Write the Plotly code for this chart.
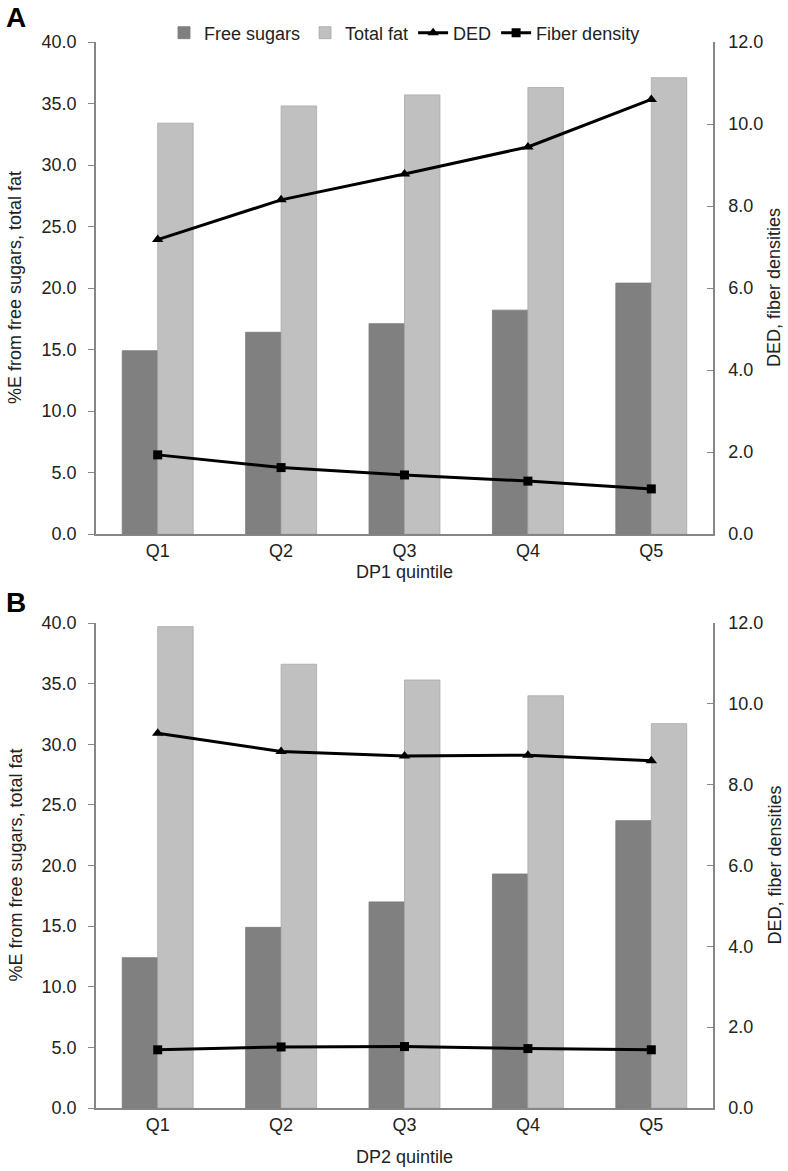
import plotly.graph_objects as go

quintiles = ["Q1", "Q2", "Q3", "Q4", "Q5"]

# Panel A (DP1)
a_free_sugars = [14.9, 16.4, 17.1, 18.2, 20.4]
a_total_fat = [33.4, 34.8, 35.7, 36.3, 37.1]
a_ded = [7.18, 8.15, 8.78, 9.44, 10.60]
a_fiber = [1.93, 1.62, 1.44, 1.29, 1.10]

# Panel B (DP2)
b_free_sugars = [12.4, 14.9, 17.0, 19.3, 23.7]
b_total_fat = [39.7, 36.6, 35.3, 34.0, 31.7]
b_ded = [9.27, 8.82, 8.71, 8.73, 8.59]
b_fiber = [1.44, 1.51, 1.52, 1.47, 1.44]

FONT = "Arial, Liberation Sans, sans-serif"
AX = "#868686"
DARK = "#808080"
LIGHT = "#c0c0c0"

fig = go.Figure()

def add_panel(xa, ya, ya2, fs, tf, ded, fib, show):
    fig.add_trace(go.Bar(x=quintiles, y=fs, name="Free sugars", xaxis=xa, yaxis=ya,
                         marker=dict(color=DARK, line=dict(color="#7a7a7a", width=0.8)),
                         showlegend=show, legendgroup="fs", offsetgroup="fs"))
    fig.add_trace(go.Bar(x=quintiles, y=tf, name="Total fat", xaxis=xa, yaxis=ya,
                         marker=dict(color=LIGHT, line=dict(color="#a8a8a8", width=0.8)),
                         showlegend=show, legendgroup="tf", offsetgroup="tf"))
    fig.add_trace(go.Scatter(x=quintiles, y=ded, name="DED", xaxis=xa, yaxis=ya2,
                             mode="lines+markers",
                             line=dict(color="black", width=3),
                             marker=dict(symbol="triangle-up", size=10, color="black"),
                             showlegend=show, legendgroup="ded"))
    fig.add_trace(go.Scatter(x=quintiles, y=fib, name="Fiber density", xaxis=xa, yaxis=ya2,
                             mode="lines+markers",
                             line=dict(color="black", width=3),
                             marker=dict(symbol="square", size=9, color="black"),
                             showlegend=show, legendgroup="fib"))

add_panel("x", "y", "y2", a_free_sugars, a_total_fat, a_ded, a_fiber, True)
add_panel("x2", "y3", "y4", b_free_sugars, b_total_fat, b_ded, b_fiber, False)

W, H = 788, 1171
xl, xr = 96, 713
dx = [xl / W, xr / W]
domA = [1 - 534 / H, 1 - 42 / H]
domB = [1 - 1108 / H, 1 - 623 / H]

tickfont = dict(family=FONT, size=18, color="#222222")

def xaxis_cfg(anchor):
    return dict(domain=dx, anchor=anchor, showline=True, linecolor=AX, linewidth=1.5,
                ticks="", showgrid=False, tickfont=tickfont, automargin=False,
                ticklabelstandoff=0)

def yleft_cfg(dom):
    return dict(domain=dom, range=[0, 40], dtick=5, tickformat=".1f", showline=True,
                linecolor=AX, linewidth=1.5, ticks="outside", ticklen=6, tickcolor=AX,
                showgrid=False, zeroline=False, tickfont=tickfont, automargin=False,
                ticklabelstandoff=8)

def yright_cfg(over, anchor):
    return dict(overlaying=over, side="right", anchor=anchor, range=[0, 12], dtick=2,
                tickformat=".1f", showline=True, linecolor=AX, linewidth=1.5,
                ticks="inside", ticklen=6, tickcolor=AX, showgrid=False, zeroline=False,
                tickfont=tickfont, automargin=False, ticklabelstandoff=10)

ann_font = dict(family=FONT, size=18, color="#222222")
annotations = [
    dict(text="<b>A</b>", x=4 / W, y=1 - 18 / H, xref="paper", yref="paper",
         showarrow=False, xanchor="left", yanchor="middle",
         font=dict(family=FONT, size=28, color="black")),
    dict(text="<b>B</b>", x=4 / W, y=1 - 602 / H, xref="paper", yref="paper",
         showarrow=False, xanchor="left", yanchor="middle",
         font=dict(family=FONT, size=28, color="black")),
    dict(text="DP1 quintile", x=(xl + xr) / 2 / W, y=1 - 572 / H, xref="paper", yref="paper",
         showarrow=False, xanchor="center", yanchor="middle", font=ann_font),
    dict(text="DP2 quintile", x=(xl + xr) / 2 / W, y=1 - 1157 / H, xref="paper", yref="paper",
         showarrow=False, xanchor="center", yanchor="middle", font=ann_font),
]
for cy in [(42 + 534) / 2, (623 + 1108) / 2]:
    annotations.append(dict(text="%E from free sugars, total fat", x=15 / W, y=1 - cy / H,
                            xref="paper", yref="paper", showarrow=False, textangle=-90,
                            xanchor="center", yanchor="middle", font=ann_font))
    annotations.append(dict(text="DED, fiber densities", x=774 / W, y=1 - cy / H,
                            xref="paper", yref="paper", showarrow=False, textangle=-90,
                            xanchor="center", yanchor="middle", font=ann_font))

fig.update_layout(
    width=W, height=H,
    margin=dict(l=0, r=0, t=0, b=0, autoexpand=False),
    paper_bgcolor="white", plot_bgcolor="white",
    barmode="group", bargap=0.425, bargroupgap=0,
    font=dict(family=FONT, size=18, color="#222222"),
    xaxis=xaxis_cfg("y"),
    yaxis=yleft_cfg(domA),
    yaxis2=yright_cfg("y", "x"),
    xaxis2=xaxis_cfg("y3"),
    yaxis3=yleft_cfg(domB),
    yaxis4=yright_cfg("y3", "x2"),
    legend=dict(orientation="h", x=(xl + xr) / 2 / W, y=1 - 33 / H, xanchor="center",
                yanchor="middle", font=dict(family=FONT, size=18, color="#222222"),
                itemwidth=30, tracegroupgap=0, bgcolor="rgba(0,0,0,0)"),
    annotations=annotations,
)

fig.write_html("out.html", config={"displayModeBar": False},
               post_script="document.body.style.margin='0';document.body.style.padding='0';")
